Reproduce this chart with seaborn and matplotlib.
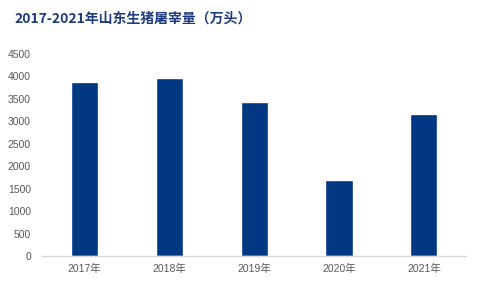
import matplotlib
matplotlib.use("Agg")
import matplotlib.pyplot as plt
import seaborn as sns
import pandas as pd

years = ["2017年", "2018年", "2019年", "2020年", "2021年"]
values = [3870, 3960, 3430, 1700, 3170]
yticks = [0, 500, 1000, 1500, 2000, 2500, 3000, 3500, 4000, 4500]
title = "2017-2021年山东生猪屠宰量（万头）"

sns.set_theme(style="white")
plt.rcParams['font.family'] = ['Liberation Sans', 'Noto Sans CJK SC', 'DejaVu Sans']

df = pd.DataFrame({"year": years, "value": values})

fig = plt.figure(figsize=(4.8, 2.88), dpi=100)
ax = fig.add_axes([0.0875, 0.111, 0.884, 0.7015])
sns.barplot(data=df, x="year", y="value", color="#003882", width=0.32, ax=ax, saturation=1)

ax.set_ylim(0, 4500)
ax.set_yticks(yticks)
ax.set_xlim(-0.5, 4.5)
ax.set_xlabel("")
ax.set_ylabel("")
for s in ["top", "right", "left"]:
    ax.spines[s].set_visible(False)
ax.spines["bottom"].set_color("#d9d9d9")
ax.spines["bottom"].set_linewidth(1)
ax.tick_params(axis="both", length=0, labelsize=7.5, colors="#595959")
ax.tick_params(axis="y", pad=8)
ax.tick_params(axis="x", pad=6)

fig.text(0.03, 0.935, title, fontsize=10, fontweight="bold", color="#1f3b7e",
         family=["Noto Sans CJK SC", "DejaVu Sans"], va="center", ha="left")

fig.savefig("out.png", dpi=100)
